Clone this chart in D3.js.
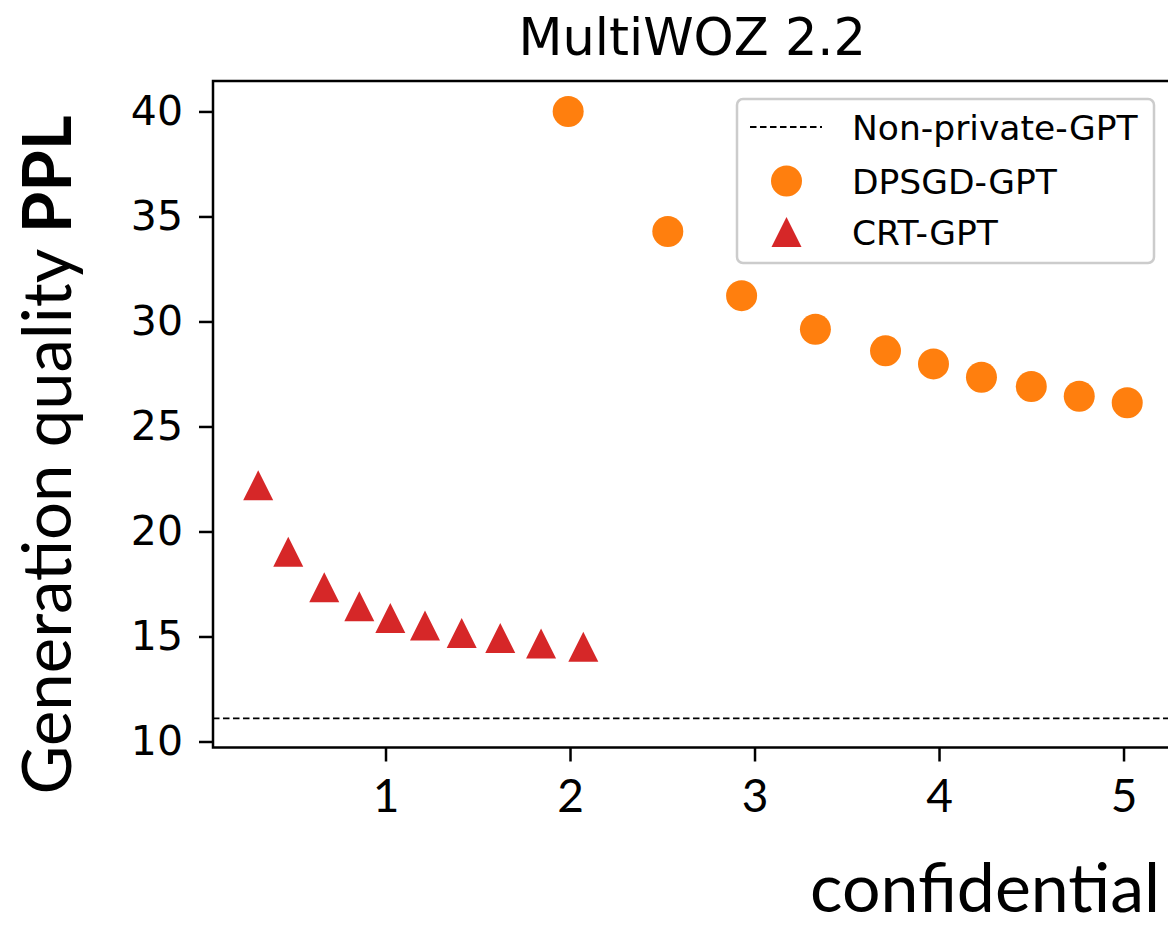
<!DOCTYPE html>
<html>
<head>
<meta charset="utf-8">
<script src="https://cdn.jsdelivr.net/npm/d3@7"></script>
<style>
  html, body { margin: 0; padding: 0; background: #fff; }
  svg { display: block; }
</style>
</head>
<body>
<svg id="chart" width="1168" height="925"></svg>
<script>
// ---- data ----
const dpsgdEps = [1.99, 2.53, 2.93, 3.33, 3.71, 3.97, 4.23, 4.50, 4.76, 5.02];
const dpsgdPPL = [40.0, 34.28, 31.23, 29.63, 28.60, 27.98, 27.34, 26.90, 26.44, 26.13];
const crtEps = [0.31, 0.473, 0.668, 0.858, 1.026, 1.214, 1.413, 1.622, 1.843, 2.072];
const crtPPL = [22.20, 19.04, 17.34, 16.44, 15.88, 15.52, 15.17, 14.93, 14.67, 14.51];
const nonPrivatePPL = 11.10;
const xTicks = [1, 2, 3, 4, 5];
const yTicks = [10, 15, 20, 25, 30, 35, 40];
const legendLabels = ["Non-private-GPT", "DPSGD-GPT", "CRT-GPT"];
const titleText = "MultiWOZ 2.2";
const xLabelText = "confidential";
const yLabelMain = "Generation quality ";
const yLabelBold = "PPL";

const orange = "#ff7f0e", red = "#d62728";

const svg = d3.select("#chart");
svg.append("rect").attr("width", 1168).attr("height", 925).attr("fill", "#fff");

const L = 213, R = 1171.5, T = 81, B = 747.5;
const x = d3.scaleLinear().domain([0.065, 5.26]).range([L, R]);
const y = d3.scaleLinear().domain([9.714, 41.45]).range([B, T]);

// non-private dashed line
svg.append("line")
  .attr("x1", L).attr("x2", R)
  .attr("y1", y(nonPrivatePPL)).attr("y2", y(nonPrivatePPL))
  .attr("stroke", "#000").attr("stroke-width", 1.8)
  .attr("stroke-dasharray", "6.5,3.5");

// DPSGD circles
svg.append("g").selectAll("circle")
  .data(d3.zip(dpsgdEps, dpsgdPPL))
  .join("circle")
  .attr("cx", d => x(d[0])).attr("cy", d => y(d[1]))
  .attr("r", 15.5).attr("fill", orange);

// CRT triangles
const tri = (s) => `M0,${-s}L${s},${s}L${-s},${s}Z`;
svg.append("g").selectAll("path")
  .data(d3.zip(crtEps, crtPPL))
  .join("path")
  .attr("transform", d => `translate(${x(d[0])},${y(d[1])})`)
  .attr("d", tri(15)).attr("fill", red);

// axes
const xAxis = d3.axisBottom(x).tickValues(xTicks).tickSize(14).tickPadding(18).tickFormat(d3.format("d"));
const gx = svg.append("g").attr("transform", `translate(0,${B})`).call(xAxis);
gx.select(".domain").remove();
gx.selectAll(".tick line").attr("stroke", "#000").attr("stroke-width", 2.5);
gx.selectAll(".tick text")
  .attr("font-family", "Lato, 'Open Sans', sans-serif")
  .attr("font-size", 46).attr("fill", "#000")
  .attr("dy", "0.71em");

const yAxis = d3.axisLeft(y).tickValues(yTicks).tickSize(14).tickPadding(16).tickFormat(d3.format("d"));
const gy = svg.append("g").attr("transform", `translate(${L},0)`).call(yAxis);
gy.select(".domain").remove();
gy.selectAll(".tick line").attr("stroke", "#000").attr("stroke-width", 2.5);
gy.selectAll(".tick text")
  .attr("font-family", "'DejaVu Sans', sans-serif")
  .attr("font-size", 41).attr("fill", "#000");

// spines
svg.append("rect")
  .attr("x", L).attr("y", T).attr("width", R - L).attr("height", B - T)
  .attr("fill", "none").attr("stroke", "#000").attr("stroke-width", 2.5);

// title
svg.append("text")
  .attr("x", (L + R) / 2).attr("y", 55)
  .attr("text-anchor", "middle")
  .attr("font-family", "'DejaVu Sans', sans-serif")
  .attr("font-size", 51).attr("fill", "#000")
  .text(titleText);

// x label
svg.append("text")
  .attr("x", 1160).attr("y", 912)
  .attr("text-anchor", "end")
  .attr("font-family", "Lato, sans-serif")
  .attr("font-size", 68).attr("fill", "#000")
  .text(xLabelText);

// y label
const yl = svg.append("text")
  .attr("transform", `translate(71,455) rotate(-90)`)
  .attr("text-anchor", "middle")
  .attr("font-family", "Lato, sans-serif")
  .attr("font-size", 67).attr("fill", "#000");
yl.append("tspan").text(yLabelMain);
yl.append("tspan").attr("font-weight", "bold").text(yLabelBold);

// legend
const lg = svg.append("g");
lg.append("rect")
  .attr("x", 737).attr("y", 99).attr("width", 417).attr("height", 164)
  .attr("rx", 6).attr("fill", "#fff").attr("fill-opacity", 0.8)
  .attr("stroke", "#cccccc").attr("stroke-width", 2.5);
const rowY = [127, 181, 232];
lg.append("line")
  .attr("x1", 750).attr("x2", 822).attr("y1", rowY[0]).attr("y2", rowY[0])
  .attr("stroke", "#000").attr("stroke-width", 1.8).attr("stroke-dasharray", "6.5,3.5");
lg.append("circle").attr("cx", 786.5).attr("cy", rowY[1]).attr("r", 15.5).attr("fill", orange);
lg.append("path").attr("transform", `translate(786.5,${rowY[2]})`).attr("d", tri(15)).attr("fill", red);
lg.selectAll("text.lab").data(legendLabels).join("text")
  .attr("class", "lab")
  .attr("x", 852).attr("y", (d, i) => rowY[i] + 12.6)
  .attr("font-family", "'DejaVu Sans', sans-serif")
  .attr("font-size", 34.5).attr("fill", "#000")
  .text(d => d);
</script>
</body>
</html>
